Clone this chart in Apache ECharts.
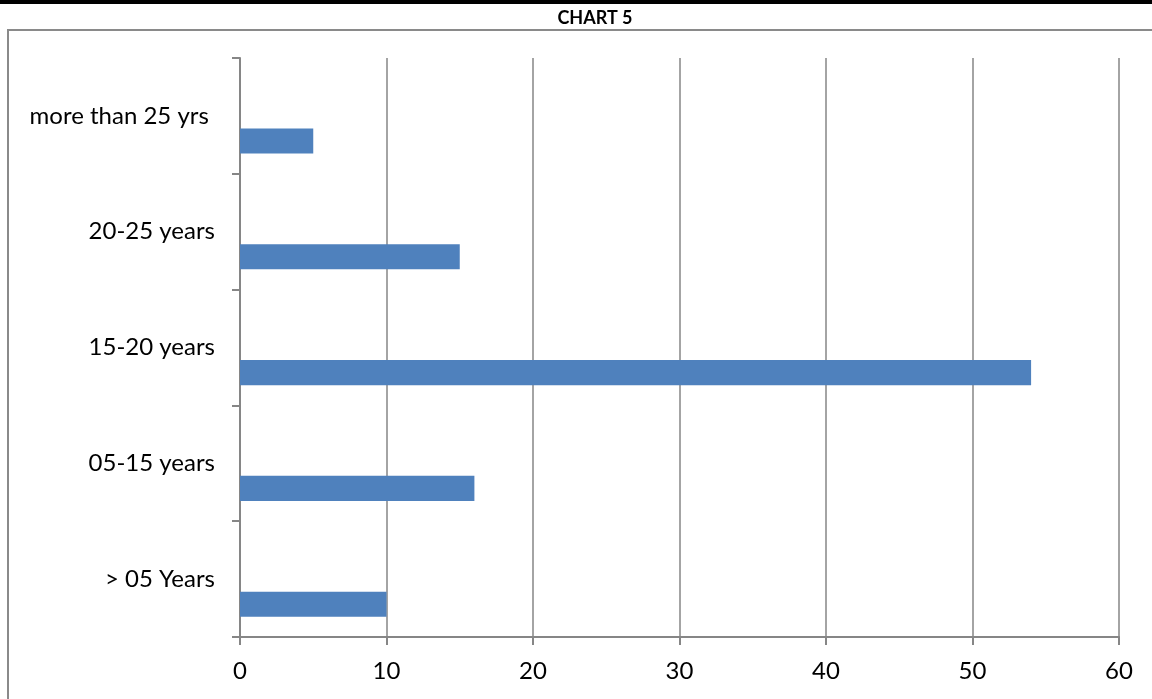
<!DOCTYPE html>
<html>
<head>
<meta charset="utf-8">
<script src="https://cdn.jsdelivr.net/npm/echarts@6/dist/echarts.min.js"></script>
<style>html,body{margin:0;padding:0;background:#fff;}#chart{width:1152px;height:699px;}</style>
</head>
<body>
<div id="chart"></div>
<script>
var title = 'CHART 5';
var categories = ['> 05 Years', '05-15 years', '15-20 years', '20-25 years', 'more than 25 yrs '];
var values = [10, 16, 54, 15, 5];
var xTicks = { min: 0, max: 60, interval: 10 };

var FONT = 'Lato';
var chart = echarts.init(document.getElementById('chart'));
var empty = categories.map(function () { return null; });
chart.setOption({
  animation: false,
  title: {
    text: title, left: 590, top: 4, textAlign: 'center',
    textStyle: { fontFamily: FONT, fontWeight: 'bold', fontSize: 18, color: '#000' }
  },
  graphic: [
    { type: 'rect', shape: { x: 0, y: 0, width: 1152, height: 4 }, style: { fill: '#000' } },
    { type: 'polyline', shape: { points: [[8, 699], [8, 30], [1152, 30]] }, style: { stroke: '#8a8a8a', lineWidth: 2, fill: null } }
  ],
  grid: { left: 240, right: 33, top: 58, bottom: 62, containLabel: false },
  xAxis: {
    type: 'value', min: xTicks.min, max: xTicks.max, interval: xTicks.interval,
    axisLine: { show: true, lineStyle: { color: '#868686', width: 2 } },
    axisTick: { show: true, length: 8, lineStyle: { color: '#868686', width: 2 } },
    splitLine: { show: true, lineStyle: { color: '#868686', width: 1.5 } },
    axisLabel: { margin: 22, fontFamily: FONT, fontSize: 24, color: '#000' }
  },
  yAxis: {
    type: 'category', data: categories,
    axisLine: { show: true, lineStyle: { color: '#868686', width: 2 } },
    axisTick: { show: true, length: 8, lineStyle: { color: '#868686', width: 2 } },
    axisLabel: { margin: 25, fontFamily: FONT, fontSize: 24, color: '#000' }
  },
  series: [
    { type: 'bar', name: 'blank1', data: empty, barGap: '0%', barCategoryGap: '35%' },
    { type: 'bar', name: 'blank2', data: empty, barGap: '0%', barCategoryGap: '35%' },
    { type: 'bar', name: 'Respondents', data: values, barGap: '0%', barCategoryGap: '35%',
      itemStyle: { color: '#4F81BD' } }
  ]
});
</script>
</body>
</html>
